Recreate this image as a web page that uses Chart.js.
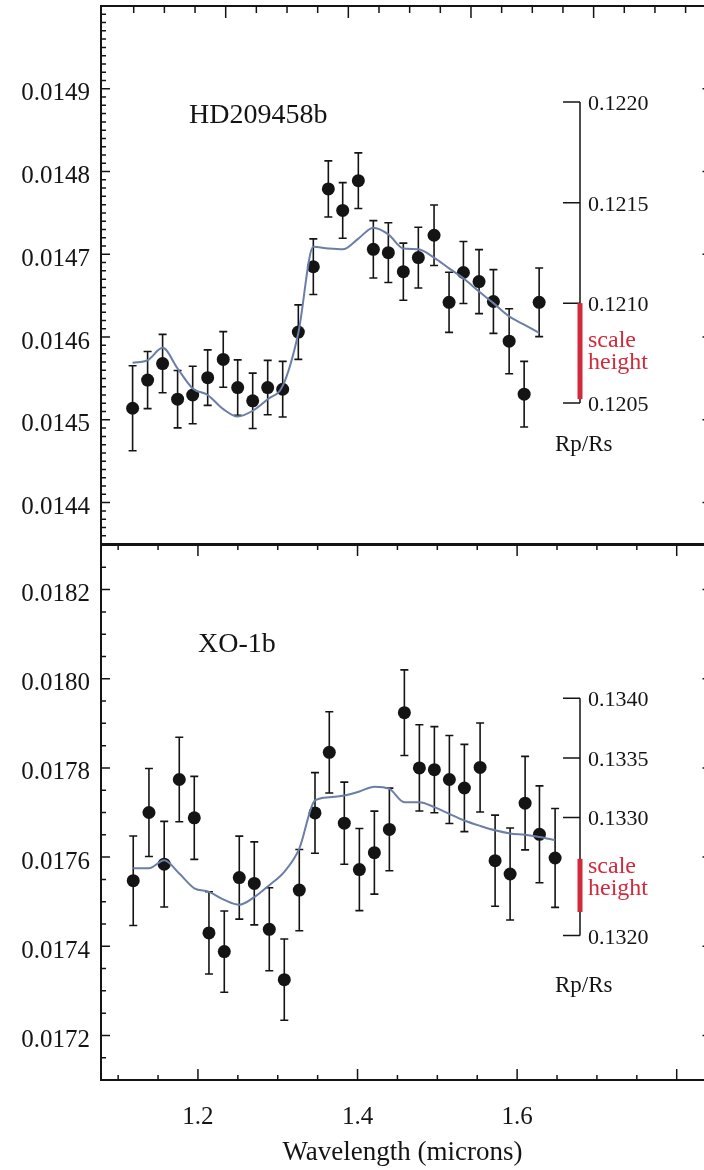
<!DOCTYPE html>
<html>
<head>
<meta charset="utf-8">
<script src="https://cdn.jsdelivr.net/npm/chart.js@4.4.1/dist/chart.umd.min.js"></script>
<style>
  html, body { margin: 0; padding: 0; background: #fff; overflow: hidden; }
  #wrap { position: relative; width: 704px; height: 1170px; overflow: hidden; background: #fff; }
  #wrap canvas { position: absolute; left: 0; }
  #topPanel { top: 0; width: 704px; height: 545px; }
  #bottomPanel { top: 544px; width: 704px; height: 626px; }
</style>
</head>
<body>
<div id="wrap">
  <canvas id="topPanel" width="704" height="545"></canvas>
  <canvas id="bottomPanel" width="704" height="626"></canvas>
</div>
<script>
const FONT = "'Liberation Serif', 'Times New Roman', serif";
const INK = '#141414';
const RED = '#d22a3b';
const MODEL = '#6b7ea6';

// wavelength axis (microns); the right frame edge sits just outside the picture
const X_MIN = 1.0785;
const X_MAX = 1.8342;
const xTicks = [1.2, 1.4, 1.6];

// HD209458b - transit depth
const wlHD = [1.1181, 1.1369, 1.1557, 1.1745, 1.1934, 1.2122, 1.2317, 1.2498, 1.2686, 1.2874,
              1.3062, 1.3258, 1.3446, 1.3634, 1.3814, 1.4010, 1.4198, 1.4386, 1.4574, 1.4762,
              1.4959, 1.5147, 1.5327, 1.5523, 1.5703, 1.5900, 1.6088, 1.6276];
const depthHD = [0.014514, 0.014548, 0.014568, 0.014525, 0.014530, 0.014551, 0.014573, 0.014539, 0.014523, 0.014539,
                 0.014537, 0.014606, 0.014685, 0.014779, 0.014753, 0.014789, 0.014706, 0.014702, 0.014679, 0.014696,
                 0.014723, 0.014642, 0.014678, 0.014667, 0.014643, 0.014595, 0.014531, 0.014642];
const errHD = [0.0000514, 0.0000345, 0.0000353, 0.0000347, 0.0000347, 0.0000335, 0.0000336, 0.0000335, 0.0000335, 0.0000329,
               0.0000336, 0.0000329, 0.0000336, 0.0000339, 0.0000336, 0.0000336, 0.0000347, 0.0000361, 0.0000345, 0.0000367,
               0.0000365, 0.0000363, 0.0000375, 0.0000387, 0.0000385, 0.0000393, 0.0000397, 0.0000414];
const modelHD = [0.014569, 0.014572, 0.014587, 0.014562, 0.014538, 0.014530, 0.014513, 0.014504, 0.014511, 0.014525,
                 0.014541, 0.014605, 0.014709, 0.014707, 0.014706, 0.014719, 0.014732, 0.014724, 0.014707, 0.014706,
                 0.014696, 0.014683, 0.014671, 0.014655, 0.014641, 0.014625, 0.014615, 0.014605];
const yTicksHD = [0.0144, 0.0145, 0.0146, 0.0147, 0.0148, 0.0149];
const rpTicksHD = [0.1220, 0.1215, 0.1210, 0.1205];
const scaleHeightHD = [0.12052, 0.1210];

// XO-1b - transit depth
const wlXO = [1.1189, 1.1386, 1.1577, 1.1766, 1.1954, 1.2138, 1.2330, 1.2518, 1.2706, 1.2894,
              1.3082, 1.3270, 1.3467, 1.3646, 1.3834, 1.4023, 1.4211, 1.4399, 1.4587, 1.4775,
              1.4963, 1.5151, 1.5339, 1.5536, 1.5724, 1.5912, 1.6100, 1.6280, 1.6476];
const depthXO = [0.017547, 0.017700, 0.017584, 0.017774, 0.017688, 0.017430, 0.017388, 0.017554, 0.017541, 0.017438,
                 0.017325, 0.017526, 0.017699, 0.017835, 0.017676, 0.017572, 0.017610, 0.017662, 0.017924, 0.017800,
                 0.017796, 0.017774, 0.017755, 0.017801, 0.017592, 0.017562, 0.017721, 0.017651, 0.017598];
const errXO = [0.0001004, 0.0000987, 0.0000960, 0.0000949, 0.0000931, 0.0000922, 0.0000911, 0.0000931, 0.0000931, 0.0000931,
               0.0000911, 0.0000911, 0.0000904, 0.0000911, 0.0000922, 0.0000920, 0.0000931, 0.0000926, 0.0000960, 0.0000967,
               0.0000967, 0.0000987, 0.0000978, 0.0000998, 0.0001022, 0.0001031, 0.0001049, 0.0001087, 0.0001109];
const modelXO = [0.017575, 0.017575, 0.017593, 0.017563, 0.017530, 0.017522, 0.017504, 0.017493, 0.017510, 0.017537,
                 0.017567, 0.017619, 0.017727, 0.017734, 0.017738, 0.017747, 0.017758, 0.017753, 0.017723, 0.017723,
                 0.017712, 0.017697, 0.017682, 0.017670, 0.017660, 0.017653, 0.017650, 0.017645, 0.017638];
const yTicksXO = [0.0172, 0.0174, 0.0176, 0.0178, 0.0180, 0.0182];
const rpTicksXO = [0.1340, 0.1335, 0.1330, 0.1320];
const scaleHeightXO = [0.1322, 0.13265];

// draws error bars, the frame with inward ticks, the Rp/Rs axis and the labels
function panelPlugin(p) {
  return {
    id: 'panel' + p.name.replace(/\W/g, ''),
    beforeDatasetsDraw(chart) {
      const ctx = chart.ctx, xs = chart.scales.x, ys = chart.scales.y;
      ctx.save();
      ctx.strokeStyle = INK;
      ctx.lineWidth = 1.6;
      ctx.beginPath();
      p.wl.forEach((w, i) => {
        const px = xs.getPixelForValue(w);
        const y1 = ys.getPixelForValue(p.depth[i] + p.err[i]);
        const y2 = ys.getPixelForValue(p.depth[i] - p.err[i]);
        ctx.moveTo(px, y1); ctx.lineTo(px, y2);
        ctx.moveTo(px - 4, y1); ctx.lineTo(px + 4, y1);
        ctx.moveTo(px - 4, y2); ctx.lineTo(px + 4, y2);
      });
      ctx.stroke();
      ctx.restore();
    },
    afterDraw(chart) {
      const ctx = chart.ctx, a = chart.chartArea, xs = chart.scales.x, ys = chart.scales.y;
      ctx.save();
      ctx.strokeStyle = INK;
      ctx.fillStyle = INK;

      // frame: left, top, bottom (right edge is cut off)
      ctx.lineWidth = 2;
      ctx.beginPath();
      ctx.moveTo(a.right + 2, a.top); ctx.lineTo(a.left, a.top);
      ctx.lineTo(a.left, a.bottom); ctx.lineTo(a.right + 2, a.bottom);
      ctx.stroke();

      ctx.lineWidth = 1.5;
      ctx.beginPath();
      // y ticks, left full and right only the stubs that show
      const i0 = Math.ceil(ys.min / p.yMinor - 1e-6), i1 = Math.floor(ys.max / p.yMinor + 1e-6);
      for (let i = i0; i <= i1; i++) {
        const py = ys.getPixelForValue(i * p.yMinor);
        const major = i % p.yMajorEvery === 0;
        ctx.moveTo(a.left, py); ctx.lineTo(a.left + (major ? 9 : 5), py);
        if (major) { ctx.moveTo(a.right, py); ctx.lineTo(a.right - 1.5, py); }
      }
      // x ticks, step 0.05 microns
      const j0 = Math.ceil(xs.min / 0.05 - 1e-6), j1 = Math.floor(xs.max / 0.05 + 1e-6);
      for (let j = j0; j <= j1; j++) {
        const px = xs.getPixelForValue(j * 0.05);
        const len = j % 4 === 0 ? 11 : 5;
        if (p.bottomTicks) { ctx.moveTo(px, a.bottom); ctx.lineTo(px, a.bottom - len); }
        if (!p.ownTopAxis) { ctx.moveTo(px, a.top); ctx.lineTo(px, a.top + len); }
      }
      // top axis of the upper panel has its own spacing
      if (p.ownTopAxis) {
        const xt = chart.scales.xt;
        for (let k = Math.ceil(xt.min); k <= Math.floor(xt.max); k++) {
          const px = xt.getPixelForValue(k);
          if (px < a.left + 4) continue;
          const len = k % 4 === 0 ? 12 : 7;
          ctx.moveTo(px, a.top); ctx.lineTo(px, a.top + len);
        }
      }
      ctx.stroke();

      // Rp/Rs axis
      const rx = p.rpX;
      const rpPix = v => ys.getPixelForValue(v * v);
      ctx.beginPath();
      ctx.moveTo(rx, rpPix(p.rpTicks[0]));
      ctx.lineTo(rx, rpPix(p.rpTicks[p.rpTicks.length - 1]));
      p.rpTicks.forEach(v => {
        const py = rpPix(v);
        ctx.moveTo(rx - 17, py); ctx.lineTo(rx, py);
      });
      ctx.stroke();
      ctx.font = '22px ' + FONT;
      ctx.textAlign = 'left';
      ctx.textBaseline = 'alphabetic';
      p.rpTicks.forEach(v => ctx.fillText(v.toFixed(4), rx + 8, rpPix(v) + 8));

      // scale height bar
      ctx.fillStyle = RED;
      const yb0 = rpPix(p.scaleHeight[0]), yb1 = rpPix(p.scaleHeight[1]);
      ctx.fillRect(rx - 2.5, yb1, 5, yb0 - yb1);
      ctx.font = '24px ' + FONT;
      ctx.fillText('scale', rx + 8, p.scaleY);
      ctx.fillText('height', rx + 8, p.scaleY + 22);

      ctx.fillStyle = INK;
      ctx.font = '23px ' + FONT;
      ctx.fillText('Rp/Rs', p.rpLabel[0], p.rpLabel[1]);

      ctx.font = '28px ' + FONT;
      ctx.fillText(p.name, p.nameAt[0], p.nameAt[1]);
      ctx.restore();
    }
  };
}

function yAxis(min, max, ticks) {
  return {
    type: 'linear', position: 'left', min: min, max: max, bounds: 'data',
    grid: { display: false, drawTicks: false }, border: { display: false },
    afterBuildTicks: s => { s.ticks = ticks.map(v => ({ value: v })); },
    afterFit: s => { s.width = 101; s.paddingTop = 0; s.paddingBottom = 0; },
    ticks: { color: INK, font: { family: FONT, size: 25 }, padding: 11, labelOffset: 5,
             callback: v => Number(v).toFixed(4) }
  };
}

function datasets(wl, depth, model) {
  return [
    { data: wl.map((w, i) => ({ x: w, y: depth[i] })), pointRadius: 6.5,
      pointBackgroundColor: INK, pointBorderWidth: 0, order: 2 },
    { data: wl.map((w, i) => ({ x: w, y: model[i] })), showLine: true, pointRadius: 0,
      borderColor: MODEL, borderWidth: 2, cubicInterpolationMode: 'monotone', order: 1 }
  ];
}

const common = {
  responsive: false, animation: false, events: [],
  plugins: { legend: { display: false }, tooltip: { enabled: false } }
};

new Chart(document.getElementById('topPanel'), {
  type: 'scatter',
  data: { datasets: datasets(wlHD, depthHD, modelHD) },
  options: Object.assign({}, common, {
    layout: { autoPadding: false, padding: { top: 6, right: 0, bottom: 1, left: 0 } },
    scales: {
      x: { type: 'linear', display: false, min: X_MIN, max: X_MAX },
      xt: { type: 'linear', display: false, position: 'top', min: -4.067, max: 15.6 },
      y: yAxis(0.01435, 0.0150, yTicksHD)
    }
  }),
  plugins: [panelPlugin({
    name: 'HD209458b', wl: wlHD, depth: depthHD, err: errHD,
    yMinor: 0.00001, yMajorEvery: 10, bottomTicks: false, ownTopAxis: true,
    rpTicks: rpTicksHD, scaleHeight: scaleHeightHD, rpX: 580,
    scaleY: 347, rpLabel: [555, 451], nameAt: [189, 123]
  })]
});

new Chart(document.getElementById('bottomPanel'), {
  type: 'scatter',
  data: { datasets: datasets(wlXO, depthXO, modelXO) },
  options: Object.assign({}, common, {
    layout: { autoPadding: false, padding: { top: 1, right: 0, bottom: 0, left: 0 } },
    scales: {
      x: {
        type: 'linear', position: 'bottom', min: X_MIN, max: X_MAX,
        grid: { display: false }, border: { display: false },
        afterBuildTicks: s => { s.ticks = xTicks.map(v => ({ value: v })); },
        afterFit: s => { s.height = 90; s.paddingLeft = 0; s.paddingRight = 0; },
        ticks: { color: INK, font: { family: FONT, size: 25 }, padding: 14, autoSkip: false, maxRotation: 0,
                 callback: v => Number(v).toFixed(1) },
        title: { display: true, text: 'Wavelength (microns)', color: INK,
                 font: { family: FONT, size: 27 }, padding: { top: 0, bottom: 1 } }
      },
      y: yAxis(0.0171, 0.0183, yTicksXO)
    }
  }),
  plugins: [panelPlugin({
    name: 'XO-1b', wl: wlXO, depth: depthXO, err: errXO,
    yMinor: 0.00005, yMajorEvery: 4, bottomTicks: true, ownTopAxis: false,
    rpTicks: rpTicksXO, scaleHeight: scaleHeightXO, rpX: 580,
    scaleY: 329, rpLabel: [555, 448], nameAt: [198, 108]
  })]
});
</script>
</body>
</html>
